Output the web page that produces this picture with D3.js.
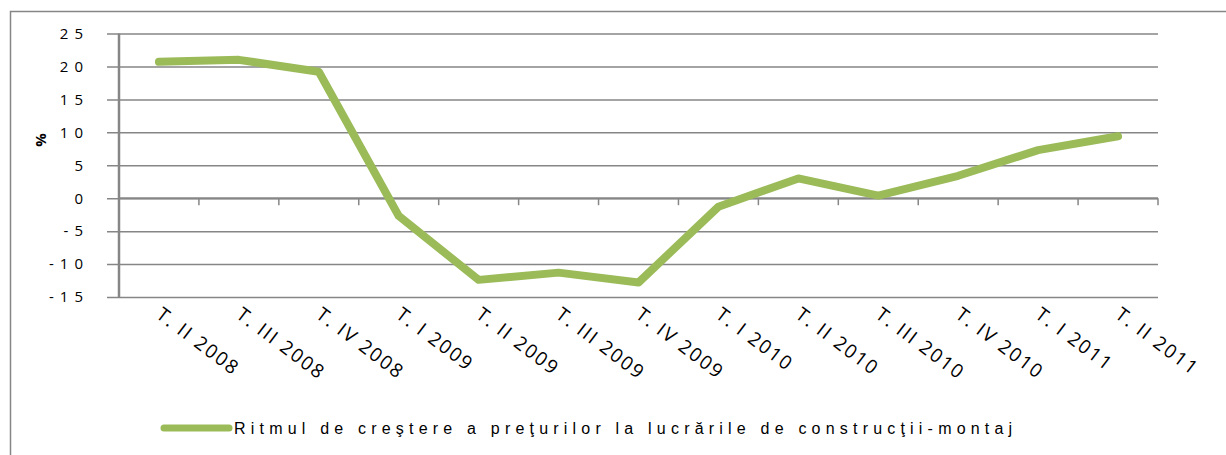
<!DOCTYPE html>
<html>
<head>
<meta charset="utf-8">
<script src="https://cdn.jsdelivr.net/npm/d3@7"></script>
<style>
  body { margin: 0; background: #fff; }
  text { font-family: "Open Sans", "Liberation Sans", sans-serif; fill: #000; }
</style>
</head>
<body>
<script>
var quarters = ["T. II 2008", "T. III 2008", "T. IV 2008", "T. I 2009", "T. II 2009", "T. III 2009",
  "T. IV 2009", "T. I 2010", "T. II 2010", "T. III 2010", "T. IV 2010", "T. I 2011", "T. II 2011"];
var growth = [20.7, 21.0, 19.2, -2.7, -12.4, -11.3, -12.8, -1.3, 3.0, 0.4, 3.4, 7.3, 9.4];
var yTicks = [25, 20, 15, 10, 5, 0, -5, -10, -15];
var seriesName = "Ritmul de creştere a preţurilor la lucrările de construcţii-montaj";

var W = 1226, H = 455;
var plotLeft = 119, plotRight = 1158, plotTop = 33.5, plotBottom = 297;
var green = "#9bbb59", grey = "#868686";

var svg = d3.select("body").append("svg").attr("width", W).attr("height", H);

// outer frame
svg.append("rect").attr("x", 10.5).attr("y", 11.5).attr("width", 1300).attr("height", 600)
  .attr("fill", "none").attr("stroke", grey).attr("stroke-width", 1.5);

var x = d3.scaleBand().domain(quarters).range([plotLeft, plotRight]);
var y = d3.scaleLinear().domain([-15, 25]).range([plotBottom, plotTop]);

// gridlines + y labels
var yAxis = svg.append("g").attr("transform", "translate(" + plotRight + ",0)")
  .call(d3.axisLeft(y).tickValues(yTicks).tickSize(plotRight - plotLeft + 12).tickPadding(18)
    .tickFormat(function(d) { return String(d); }));
yAxis.select(".domain").remove();
yAxis.selectAll(".tick line").attr("stroke", grey).attr("stroke-width", 1.5);
yAxis.selectAll(".tick text").style("font-size", "15px").style("letter-spacing", "6px")
  .style("font-family", "'Open Sans', sans-serif");

// y axis line
svg.append("line").attr("x1", plotLeft).attr("x2", plotLeft).attr("y1", y(25)).attr("y2", y(-15))
  .attr("stroke", grey).attr("stroke-width", 2.5);

// x axis at zero with downward ticks between categories
svg.append("line").attr("x1", plotLeft).attr("x2", plotRight).attr("y1", y(0)).attr("y2", y(0))
  .attr("stroke", grey).attr("stroke-width", 2);
svg.append("g").selectAll("line").data(quarters).enter().append("line")
  .attr("x1", function(d) { return x(d) + x.bandwidth(); })
  .attr("x2", function(d) { return x(d) + x.bandwidth(); })
  .attr("y1", y(0)).attr("y2", y(0) + 7)
  .attr("stroke", grey).attr("stroke-width", 1.5);

// category labels
svg.append("g").selectAll("text").data(quarters).enter().append("text")
  .attr("transform", function(d) {
    return "translate(" + (x(d) + x.bandwidth() / 2 - 4) + "," + 317 + ") rotate(37)";
  })
  .style("font-size", "19px").style("letter-spacing", "1.9px")
  .text(function(d) { return d; });

// y title
svg.append("text").attr("transform", "translate(46,140) rotate(-90)")
  .attr("text-anchor", "middle").style("font-size", "15px").style("font-weight", "bold")
  .text("%");

// series line
var line = d3.line()
  .x(function(d, i) { return x(quarters[i]) + x.bandwidth() / 2; })
  .y(function(d) { return y(d); });
svg.append("path").datum(growth).attr("d", line)
  .attr("fill", "none").attr("stroke", green).attr("stroke-width", 8)
  .attr("stroke-linejoin", "round").attr("stroke-linecap", "round");

// legend
svg.append("line").attr("x1", 164).attr("x2", 229).attr("y1", 428).attr("y2", 428)
  .attr("stroke", green).attr("stroke-width", 7).attr("stroke-linecap", "round");
svg.append("text").attr("x", 234).attr("y", 434)
  .style("font-family", "'Liberation Sans', Arial, sans-serif")
  .style("font-size", "16px").style("letter-spacing", "5.2px")
  .text(seriesName);
</script>
</body>
</html>
